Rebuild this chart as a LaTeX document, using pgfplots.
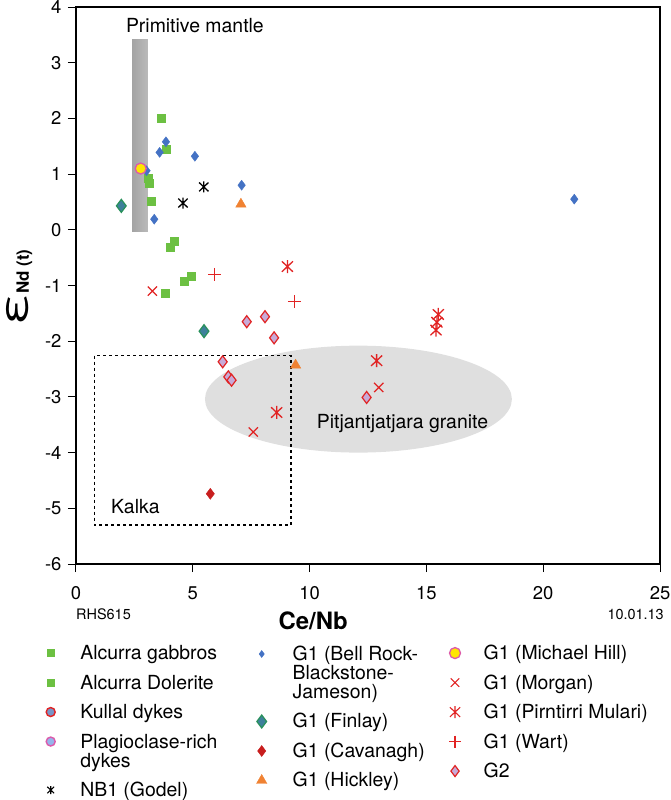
\documentclass[border=0pt]{standalone}
\usepackage{fontspec}
\setmainfont{TeX Gyre Heros}
\usepackage{pgfplots}
\pgfplotsset{compat=1.18}

\definecolor{cgreen}{RGB}{108,192,66}
\definecolor{cblue}{RGB}{68,114,196}
\definecolor{cteal}{RGB}{62,128,155}
\definecolor{ctealedge}{RGB}{40,145,90}
\definecolor{cred}{RGB}{225,35,35}
\definecolor{cdarkred}{RGB}{200,30,30}
\definecolor{corange}{RGB}{240,130,50}
\definecolor{cyellow}{RGB}{255,230,0}
\definecolor{cpink}{RGB}{220,90,170}
\definecolor{cg2}{RGB}{200,170,215}
\definecolor{ckullal}{RGB}{120,150,200}
\definecolor{cplag}{RGB}{150,180,235}

\pgfdeclareplotmark{xbar}{%
  \pgfpathmoveto{\pgfqpoint{0pt}{\pgfplotmarksize}}%
  \pgfpathlineto{\pgfqpoint{0pt}{-\pgfplotmarksize}}%
  \pgfpathmoveto{\pgfqpoint{-0.85\pgfplotmarksize}{0.8\pgfplotmarksize}}%
  \pgfpathlineto{\pgfqpoint{0.85\pgfplotmarksize}{-0.8\pgfplotmarksize}}%
  \pgfpathmoveto{\pgfqpoint{-0.85\pgfplotmarksize}{-0.8\pgfplotmarksize}}%
  \pgfpathlineto{\pgfqpoint{0.85\pgfplotmarksize}{0.8\pgfplotmarksize}}%
  \pgfusepathqstroke}

\newcommand{\fs}[1]{\fontsize{#1}{#1}\selectfont}
\newcommand{\z}[1]{\raisebox{0pt}[0pt][0pt]{#1}}

\pgfplotsset{
  legax/.style={scale only axis, width=584bp, height=557bp, hide axis,
    xmin=0, xmax=1, ymin=0, ymax=1},
  legsty/.style 2 args={
    legend image code/.code={\path[draw=none, fill=none] (-8bp,-9.5bp) rectangle (#2,20bp);
      \draw[##1] plot coordinates {(0bp,6.5bp)};},
    legend style={at={#1}, anchor=north west, draw=none, fill=none,
      inner sep=0pt, outer sep=0pt, row sep=0pt, column sep=0pt,
      font=\fs{19.5}, cells={anchor=base west, inner sep=0pt}}
  },
  cont/.style={legend image code/.code={\path[draw=none, fill=none] (-8bp,-9bp) rectangle (20bp,10bp);}}
}

\begin{document}
\begin{tikzpicture}
\useasboundingbox (-76bp,-236bp) rectangle (595bp,564bp);
\begin{axis}[
  scale only axis, width=584bp, height=557bp,
  xmin=0, xmax=25, ymin=-6, ymax=4, clip=false,
  xtick={0,5,...,25}, ytick={-6,-5,...,4},
  tick pos=left, tick align=outside, major tick length=8bp,
  every tick/.style={black, line width=1bp},
  axis line style={line width=2bp},
  /pgf/number format/assume math mode=true,
  tick label style={font=\fs{18.5}},
  xticklabel style={yshift=-11bp},
  yticklabel style={xshift=-3bp},
  xlabel={\bfseries Ce/Nb},
  xlabel style={font=\fs{24}, at={(axis description cs:0.406,-0.1023)}, anchor=center},
  ylabel={{\fs{38}\scalebox{1.4}[1]{ε}}\raisebox{-1bp}{\fs{17}\bfseries Nd (t)}},
  ylabel style={at={(axis description cs:-0.0965,0.496)}, anchor=center, inner sep=0pt},
]
\shade[left color=black!36, right color=black!27] (axis cs:2.40,-0.03) rectangle (axis cs:3.08,3.41);
\fill[black!14, opacity=0.9] (axis cs:12.09,-3.04) ellipse [x radius=6.57, y radius=0.96];
\draw[dash pattern=on 3bp off 3bp, line width=1.3bp] (axis cs:0.8,-2.26) rectangle (axis cs:9.2,-5.30);
\node[anchor=base, font=\fs{19.5}] at (axis cs:5.09,3.54) {Primitive mantle};
\node[anchor=base west, font=\fs{19.5}] at (axis cs:1.357,-5.086) {Kalka};
\node[anchor=base west, font=\fs{19.5}] at (axis cs:10.16,-3.56) {Pitjantjatjara granite};
\node[anchor=base west, font=\fs{14.5}, inner sep=0pt] at (axis description cs:0,-0.1005) {RHS615};
\node[anchor=base east, font=\fs{14.5}, inner sep=0pt] at (axis description cs:1.0068,-0.1005) {10.01.13};

% Alcurra gabbros
\addplot[only marks, mark=square*, mark size=4bp, color=cgreen] coordinates {
(3.64,2.00) (3.85,1.44) (3.08,0.93) (3.13,0.83) (3.20,0.52)};
% Alcurra Dolerite
\addplot[only marks, mark=square*, mark size=4bp, color=cgreen] coordinates {
(4.20,-0.20) (4.02,-0.32) (4.62,-0.92) (4.92,-0.83) (3.81,-1.13)};
% G1 (Bell Rock-Blackstone-Jameson)
\addplot[only marks, mark=diamond*, mark size=5bp, color=cblue] coordinates {
(3.85,1.58) (3.58,1.39) (5.09,1.32) (3.02,1.06) (7.09,0.80) (3.35,0.19) (21.33,0.55)};
% G1 (Finlay)
\addplot[only marks, mark=diamond*, mark size=6.5bp, draw=ctealedge, fill=cteal, line width=1.2bp] coordinates {
(1.94,0.43) (5.48,-1.82)};
% G1 (Michael Hill)
\addplot[only marks, mark=*, mark size=5.5bp, draw=cpink, fill=cyellow, line width=1.3bp] coordinates {
(2.77,1.10)};
% NB1 (Godel)
\addplot[only marks, mark=xbar, mark size=5.5bp, color=black, line width=1.3bp] coordinates {
(5.47,0.77) (4.58,0.48)};
% G1 (Hickley)
\addplot[only marks, mark=triangle*, mark size=6bp, color=corange] coordinates {
(7.06,0.46) (9.40,-2.43)};
% G1 (Cavanagh)
\addplot[only marks, mark=diamond*, mark size=5.5bp, color=cdarkred] coordinates {
(5.75,-4.74)};
% G2
\addplot[only marks, mark=diamond*, mark size=6bp, draw=cred, fill=cg2, line width=1.2bp] coordinates {
(7.31,-1.65) (8.09,-1.56) (8.48,-1.94) (6.28,-2.37) (6.52,-2.64) (6.66,-2.70) (12.44,-3.01)};
% G1 (Morgan)
\addplot[only marks, mark=x, mark size=6.5bp, color=cred, line width=1.2bp] coordinates {
(3.27,-1.10) (7.59,-3.63) (12.96,-2.83)};
% G1 (Pirntirri Mulari)
\addplot[only marks, mark=xbar, mark size=6.5bp, color=cred, line width=1.3bp] coordinates {
(9.05,-0.66) (8.59,-3.28) (12.87,-2.35) (15.51,-1.52) (15.45,-1.66) (15.41,-1.80)};
% G1 (Wart)
\addplot[only marks, mark=+, mark size=6.5bp, color=cred, line width=1.2bp] coordinates {
(5.94,-0.80) (9.35,-1.29)};
\end{axis}

% legend column 1
\begin{axis}[legax, legsty={(axis description cs:-0.0570,-0.1356)}{27.6bp}]
\addlegendimage{mark=square*, mark size=3.5bp, color=cgreen}
\addlegendentry{\z{Alcurra gabbros}}
\addlegendimage{mark=square*, mark size=3.5bp, color=cgreen}
\addlegendentry{\z{Alcurra Dolerite}}
\addlegendimage{mark=*, mark size=4.5bp, draw=cred, fill=ckullal, line width=1.4bp}
\addlegendentry{\z{Kullal dykes}}
\addlegendimage{mark=*, mark size=4.5bp, draw=cpink, fill=cplag, line width=1.4bp}
\addlegendentry{\z{Plagioclase-rich}}
\addlegendimage{cont}
\addlegendentry{\z{dykes}}
\addlegendimage{mark=xbar, mark size=4bp, color=black, line width=1.1bp}
\addlegendentry{\z{NB1 (Godel)}}
\end{axis}

% legend column 2
\begin{axis}[legax, legsty={(axis description cs:0.3043,-0.1373)}{29bp}]
\addlegendimage{mark=diamond*, mark size=3.5bp, color=cblue}
\addlegendentry{\z{G1 (Bell Rock-}}
\addlegendimage{cont}
\addlegendentry{\z{Blackstone-}}
\addlegendimage{cont}
\addlegendentry{\z{Jameson)}}
\addlegendimage{mark=diamond*, mark size=6.5bp, draw=ctealedge, fill=cteal, line width=1.2bp}
\addlegendentry{\z{G1 (Finlay)}}
\addlegendimage{mark=diamond*, mark size=5.5bp, color=cdarkred}
\addlegendentry{\z{G1 (Cavanagh)}}
\addlegendimage{mark=triangle*, mark size=6bp, color=corange}
\addlegendentry{\z{G1 (Hickley)}}
\end{axis}

% legend column 3
\begin{axis}[legax, legsty={(axis description cs:0.6353,-0.1357)}{26.7bp}]
\addlegendimage{mark=*, mark size=5.5bp, draw=cpink, fill=cyellow, line width=1.3bp}
\addlegendentry{\z{G1 (Michael Hill)}}
\addlegendimage{mark=x, mark size=6bp, color=cred, line width=1.1bp}
\addlegendentry{\z{G1 (Morgan)}}
\addlegendimage{mark=xbar, mark size=6bp, color=cred, line width=1.1bp}
\addlegendentry{\z{G1 (Pirntirri Mulari)}}
\addlegendimage{mark=+, mark size=6bp, color=cred, line width=1.1bp}
\addlegendentry{\z{G1 (Wart)}}
\addlegendimage{mark=diamond*, mark size=5.5bp, draw=cred, fill=cg2, line width=1.2bp}
\addlegendentry{\z{G2}}
\end{axis}
\end{tikzpicture}
\end{document}
